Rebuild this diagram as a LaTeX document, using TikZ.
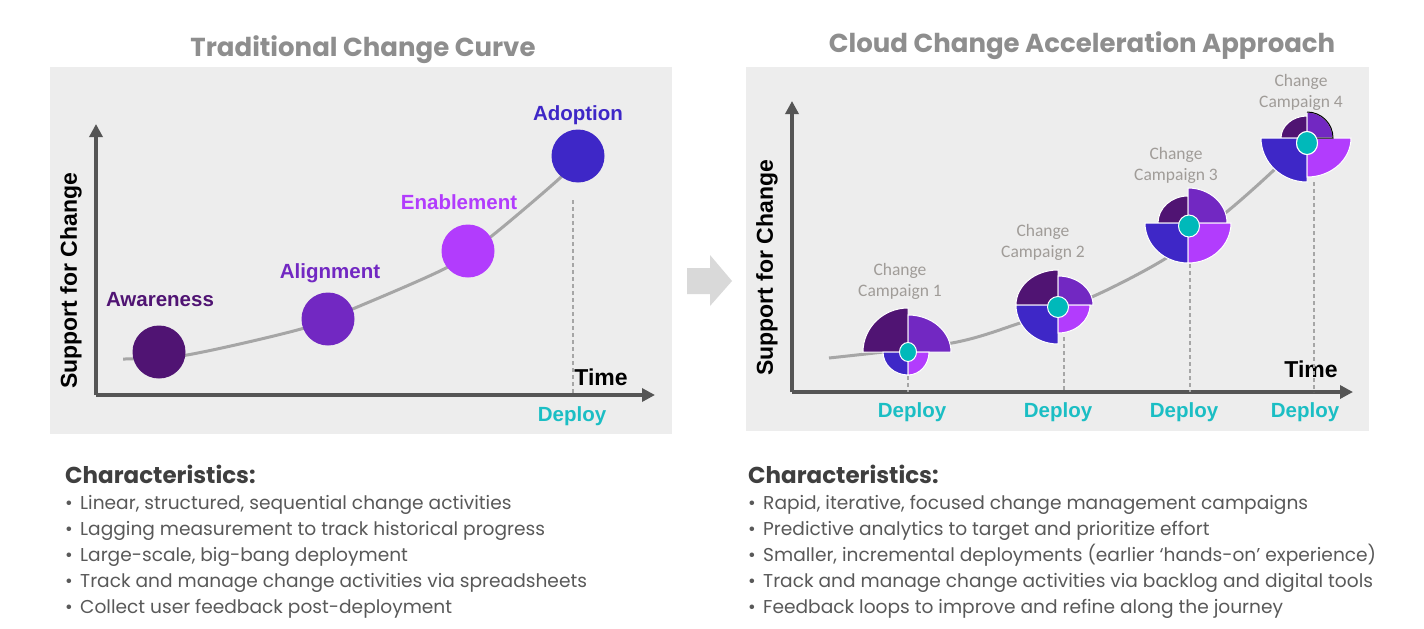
\documentclass[tikz,border=0pt]{standalone}
\usepackage{fontspec}
\setmainfont{Poppins}
\newfontfamily\arialfont{Liberation Sans}
\newfontfamily\calibrifont{Carlito}
\usetikzlibrary{arrows.meta}
\definecolor{panelgray}{HTML}{EDEDED}
\definecolor{axisgray}{HTML}{555555}
\definecolor{curvegray}{HTML}{A6A6A6}
\definecolor{titlegray}{HTML}{8E8E8E}
\definecolor{headgray}{HTML}{3F3F3F}
\definecolor{bulletgray}{HTML}{595959}
\definecolor{campgray}{HTML}{A09C98}
\definecolor{chevgray}{HTML}{D9D9D9}
\definecolor{cdark}{HTML}{501473}
\definecolor{cmid}{HTML}{7228C2}
\definecolor{cviolet}{HTML}{B23CFD}
\definecolor{cblue}{HTML}{3E27C7}
\definecolor{hubteal}{HTML}{00B9BA}
\definecolor{deployteal}{HTML}{1BBEC4}
\tikzset{
  maintitle/.style={anchor=base, inner sep=0pt, text=titlegray, font=\fontsize{26}{30}\selectfont\bfseries},
  axis/.style={draw=axisgray, line width=3.5pt, -{Triangle[length=13pt,width=13pt]}},
  trend/.style={draw=curvegray, line width=3pt},
  stage/.style={circle, minimum size=53pt, inner sep=0pt},
  stagelabel/.style={inner sep=0pt, font=\fontsize{20.5}{24}\selectfont\arialfont\bfseries},
  axislabel/.style={inner sep=0pt, font=\fontsize{23}{26}\selectfont\arialfont\bfseries},
  deploylabel/.style={inner sep=0pt, text=deployteal, font=\fontsize{20.5}{24}\selectfont\arialfont\bfseries},
  deployline/.style={draw=curvegray, line width=1.5pt, dash pattern=on 4pt off 3pt},
  camplabel/.style={inner sep=0pt, align=center, text=campgray, font=\fontsize{17.5}{21}\selectfont\calibrifont},
  quad/.style={draw=white, line width=1pt},
  hub/.style={fill=hubteal, draw=white, line width=1pt},
  charhead/.style={anchor=base west, inner sep=0pt, text=headgray, font=\fontsize{23}{26}\selectfont\bfseries},
  charitem/.style={anchor=base west, inner sep=0pt, text=bulletgray, font=\fontsize{18.6}{22}\selectfont}
}
% glyph: split point, TL, TR, BL, BR radii, hub point, hub radii
\newcommand{\campaignglyph}[7]{%
  \fill[quad, fill=cdark] (#1) -- ++(180:#2) arc (180:90:#2) -- cycle;
  \fill[quad, fill=cmid] (#1) -- ++(0:#3) arc (0:90:#3) -- cycle;
  \fill[quad, fill=cblue] (#1) -- ++(180:#4) arc (180:270:#4) -- cycle;
  \fill[quad, fill=cviolet] (#1) -- ++(0:#5) arc (0:-90:#5) -- cycle;
  \filldraw[hub] (#6) ellipse (#7);
}
\begin{document}
\begin{tikzpicture}[x=1pt,y=1pt]
\useasboundingbox (0,0) rectangle (1424,-629);
\fill[white] (0,0) rectangle (1424,-629);

% left panel
\fill[panelgray] (50,-67) rectangle (672,-434);
\node[maintitle] (ltitle) at (363,-56) {Traditional Change Curve};
\coordinate (lorigin) at (96,-395);
\coordinate (lytop) at (96,-124);
\coordinate (lxend) at (655,-395);
\draw[axis] (lorigin) -- (lytop);
\draw[axis] (lorigin) -- (lxend);
\node[axislabel, rotate=90] (lylabel) at (71,-281) {Support for Change};
\node[axislabel] (ltime) at (601,-377) {Time};
\coordinate (ldeploytop) at (573,-200);
\coordinate (ldeploybot) at (573,-395);
\draw[deployline] (ldeploytop) -- (ldeploybot);
\node[deploylabel] (ldeploy) at (572,-416) {Deploy};
\draw[trend] plot[smooth] coordinates {(123,-359) (187,-355) (301,-329) (355,-308) (448,-267) (493,-235) (560,-178) (578,-157)};
\node[stage, fill=cdark] (awareness) at (159,-352) {};
\node[stage, fill=cmid] (alignment) at (328,-319) {};
\node[stage, fill=cviolet] (enablement) at (468,-251) {};
\node[stage, fill=cblue] (adoption) at (578,-156) {};
\node[stagelabel, text=cdark] (awarenesslbl) at (160,-300) {Awareness};
\node[stagelabel, text=cmid] (alignmentlbl) at (330,-273) {Alignment};
\node[stagelabel, text=cviolet] (enablementlbl) at (459,-202) {Enablement};
\node[stagelabel, text=cblue] (adoptionlbl) at (578,-115) {Adoption};

% chevron
\fill[chevgray] (687,-268) -- (710,-268) -- (710,-255) -- (732,-281) -- (710,-306) -- (710,-294) -- (687,-294) -- cycle;

% right panel
\fill[panelgray] (746,-67) rectangle (1369,-431);
\node[maintitle] (rtitle) at (1082,-52) {Cloud Change Acceleration Approach};
\coordinate (rorigin) at (792,-392);
\coordinate (rytop) at (792,-101);
\coordinate (rxend) at (1353,-392);
\draw[axis] (rorigin) -- (rytop);
\draw[axis] (rorigin) -- (rxend);
\node[axislabel, rotate=90] (rylabel) at (767,-268) {Support for Change};
\node[axislabel] (rtime) at (1311,-369) {Time};
\draw[trend] plot[smooth] coordinates {(829,-358) (952,-343) (1020,-323) (1094,-296) (1168,-257) (1229,-210) (1274,-170) (1290,-152)};
\coordinate (dtop1) at (908,-376);
\coordinate (dbot1) at (908,-392);
\coordinate (dtop2) at (1064,-337);
\coordinate (dbot2) at (1064,-392);
\coordinate (dtop3) at (1190,-264);
\coordinate (dbot3) at (1190,-392);
\coordinate (dtop4) at (1314,-182);
\coordinate (dbot4) at (1314,-392);
\draw[deployline] (dtop1) -- (dbot1);
\draw[deployline] (dtop2) -- (dbot2);
\draw[deployline] (dtop3) -- (dbot3);
\draw[deployline] (dtop4) -- (dbot4);
\node[deploylabel] (deploy1) at (912,-412) {Deploy};
\node[deploylabel] (deploy2) at (1058,-412) {Deploy};
\node[deploylabel] (deploy3) at (1184,-412) {Deploy};
\node[deploylabel] (deploy4) at (1305,-412) {Deploy};
\coordinate (camp1) at (908,-352);
\coordinate (camp2) at (1058,-305);
\coordinate (camp3) at (1188,-223);
\coordinate (camp4) at (1307,-138);
\coordinate (hub1) at (908,-352);
\coordinate (hub2) at (1058,-307);
\coordinate (hub3) at (1189,-226);
\coordinate (hub4) at (1307,-143);
\campaignglyph{camp1}{45pt and 44pt}{43pt and 37pt}{25pt and 23pt}{21pt and 23pt}{hub1}{8.5pt and 9.5pt}
\campaignglyph{camp2}{42pt and 35pt}{35pt and 29pt}{42pt and 39pt}{32pt and 28pt}{hub2}{10.5pt and 10.5pt}
\campaignglyph{camp3}{30pt and 27pt}{39pt and 35pt}{43pt and 40pt}{43pt and 40pt}{hub3}{10.5pt and 11pt}
\campaignglyph{camp4}{26pt and 22pt}{26pt and 26pt}{46pt and 44pt}{44pt and 39pt}{hub4}{10.5pt and 11.5pt}
\draw[black, line width=1pt] ([shift={(90:26pt and 26pt)}]camp4) arc (90:0:26pt and 26pt) -- (camp4);
\filldraw[hub] (hub4) ellipse (10.5pt and 11.5pt);
\node[camplabel] (camp1lbl) at (900,-281) {Change\\Campaign 1};
\node[camplabel] (camp2lbl) at (1043,-242) {Change\\Campaign 2};
\node[camplabel] (camp3lbl) at (1176,-165) {Change\\Campaign 3};
\node[camplabel] (camp4lbl) at (1301,-92) {Change\\Campaign 4};

% characteristics
\node[charhead] (lhead) at (65,-483) {Characteristics:};
\node[charitem] (litem1) at (65,-509) {\makebox[15pt][l]{•}Linear, structured, sequential change activities};
\node[charitem] (litem2) at (65,-535) {\makebox[15pt][l]{•}Lagging measurement to track historical progress};
\node[charitem] (litem3) at (65,-561) {\makebox[15pt][l]{•}Large-scale, big-bang deployment};
\node[charitem] (litem4) at (65,-587) {\makebox[15pt][l]{•}Track and manage change activities via spreadsheets};
\node[charitem] (litem5) at (65,-613) {\makebox[15pt][l]{•}Collect user feedback post-deployment};
\node[charhead] (rhead) at (748,-483) {Characteristics:};
\node[charitem] (ritem1) at (748,-509) {\makebox[15pt][l]{•}Rapid, iterative, focused change management campaigns};
\node[charitem] (ritem2) at (748,-535) {\makebox[15pt][l]{•}Predictive analytics to target and prioritize effort};
\node[charitem] (ritem3) at (748,-561) {\makebox[15pt][l]{•}Smaller, incremental deployments (earlier ‘hands-on’ experience)};
\node[charitem] (ritem4) at (748,-587) {\makebox[15pt][l]{•}Track and manage change activities via backlog and digital tools};
\node[charitem] (ritem5) at (748,-613) {\makebox[15pt][l]{•}Feedback loops to improve and refine along the journey};
\end{tikzpicture}
\end{document}
